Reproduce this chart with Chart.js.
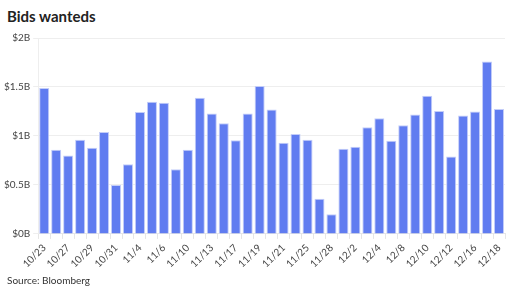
<!DOCTYPE html>
<html>
<head>
<meta charset="utf-8">
<script src="https://cdn.jsdelivr.net/npm/chart.js@4"></script>
<style>
    body { margin: 0; background: #fff; font-family: Lato, sans-serif; }
    .wrap { position: relative; width: 520px; height: 293px; }
    .title { position: absolute; left: 7px; top: 7px; font-size: 15px; font-weight: bold; color: #222; }
    .source { position: absolute; left: 7px; top: 274px; font-size: 10px; color: #333; }
    canvas { position: absolute; left: 0; top: 0; }
</style>
</head>
<body>
<div class="wrap">
    <div class="title">Bids wanteds</div>
    <canvas id="chart" width="520" height="293"></canvas>
    <div class="source">Source: Bloomberg</div>
</div>
<script>
// trading days, every other one is labelled
const dates = [
    "10/23", "10/24", "10/27", "10/28", "10/29", "10/30", "10/31", "11/3", "11/4", "11/5",
    "11/6", "11/7", "11/10", "11/12", "11/13", "11/14", "11/17", "11/18", "11/19", "11/20",
    "11/21", "11/24", "11/25", "11/26", "11/28", "12/1", "12/2", "12/3", "12/4", "12/5",
    "12/8", "12/9", "12/10", "12/11", "12/12", "12/15", "12/16", "12/17", "12/18"
];
// $ billions
const bidsWanted = [
    1.49, 0.86, 0.80, 0.96, 0.88, 1.04, 0.50, 0.71, 1.245, 1.35,
    1.34, 0.66, 0.86, 1.39, 1.23, 1.13, 0.955, 1.23, 1.51, 1.27,
    0.93, 1.02, 0.96, 0.36, 0.20, 0.87, 0.89, 1.09, 1.18, 0.95,
    1.11, 1.22, 1.41, 1.255, 0.79, 1.21, 1.25, 1.76, 1.275
];
const yTicks = [0, 0.5, 1, 1.5, 2];
const yTickLabels = ["$0B", "$0.5B", "$1B", "$1.5B", "$2B"];

new Chart(document.getElementById("chart").getContext("2d"), {
    type: 'bar',
    data: {
        labels: dates,
        datasets: [
            {
                label: "Bids wanted",
                data: bidsWanted,
                backgroundColor: "#607cf0",
                borderColor: "#c3cdf9",
                borderWidth: 1,
                barPercentage: 0.84,
                categoryPercentage: 1
            }
        ]
    },
    options: {
        responsive: false,
        animation: false,
        layout: { padding: { top: 38, left: 1, right: 15, bottom: 20 } },
        plugins: { legend: { display: false }, tooltip: { enabled: false } },
        scales: {
            x: {
                grid: { drawOnChartArea: false, color: "#e6e6e6", tickLength: 5 },
                border: { color: "#e6e6e6" },
                ticks: {
                    autoSkip: false,
                    maxRotation: 45,
                    minRotation: 45,
                    color: "#444",
                    font: { family: "Lato", size: 10 },
                    callback: (v, i) => (i % 2 === 0 ? dates[i] : "")
                }
            },
            y: {
                min: 0,
                max: 2,
                afterBuildTicks: axis => { axis.ticks = yTicks.map(v => ({ value: v })); },
                grid: { color: "#eeeeee", tickLength: 5 },
                border: { color: "#eeeeee" },
                ticks: {
                    color: "#444",
                    font: { family: "Lato", size: 10 },
                    callback: v => yTickLabels[yTicks.indexOf(v)]
                }
            }
        }
    }
});
</script>
</body>
</html>
